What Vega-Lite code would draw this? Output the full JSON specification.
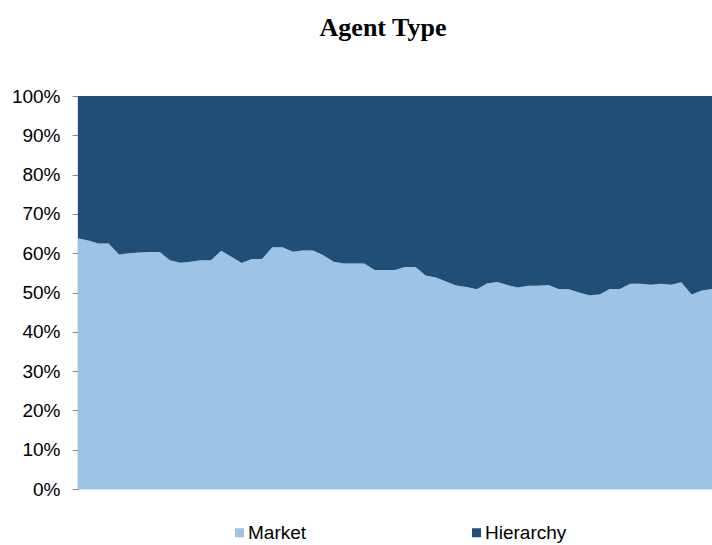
{
  "$schema": "https://vega.github.io/schema/vega-lite/v6.json",
  "autosize": {"type": "none"},
  "padding": {"left": 78, "top": 96, "right": 0, "bottom": 56},
  "width": 634,
  "height": 393,
  "background": "white",
  "title": {
    "text": "Agent Type",
    "font": "Liberation Serif",
    "fontSize": 26,
    "fontWeight": "bold",
    "color": "black",
    "anchor": "middle",
    "offset": 46,
    "dx": -12
  },
  "data": {
    "values": [
      {"t": 0, "Market": 63.8, "Hierarchy": 36.2},
      {"t": 1, "Market": 63.2, "Hierarchy": 36.8},
      {"t": 2, "Market": 62.5, "Hierarchy": 37.5},
      {"t": 3, "Market": 62.5, "Hierarchy": 37.5},
      {"t": 4, "Market": 59.7, "Hierarchy": 40.3},
      {"t": 5, "Market": 60.0, "Hierarchy": 40.0},
      {"t": 6, "Market": 60.2, "Hierarchy": 39.8},
      {"t": 7, "Market": 60.3, "Hierarchy": 39.7},
      {"t": 8, "Market": 60.3, "Hierarchy": 39.7},
      {"t": 9, "Market": 58.2, "Hierarchy": 41.8},
      {"t": 10, "Market": 57.6, "Hierarchy": 42.4},
      {"t": 11, "Market": 57.8, "Hierarchy": 42.2},
      {"t": 12, "Market": 58.2, "Hierarchy": 41.8},
      {"t": 13, "Market": 58.2, "Hierarchy": 41.8},
      {"t": 14, "Market": 60.6, "Hierarchy": 39.4},
      {"t": 15, "Market": 59.1, "Hierarchy": 40.9},
      {"t": 16, "Market": 57.5, "Hierarchy": 42.5},
      {"t": 17, "Market": 58.5, "Hierarchy": 41.5},
      {"t": 18, "Market": 58.5, "Hierarchy": 41.5},
      {"t": 19, "Market": 61.5, "Hierarchy": 38.5},
      {"t": 20, "Market": 61.5, "Hierarchy": 38.5},
      {"t": 21, "Market": 60.4, "Hierarchy": 39.6},
      {"t": 22, "Market": 60.7, "Hierarchy": 39.3},
      {"t": 23, "Market": 60.7, "Hierarchy": 39.3},
      {"t": 24, "Market": 59.5, "Hierarchy": 40.5},
      {"t": 25, "Market": 57.8, "Hierarchy": 42.2},
      {"t": 26, "Market": 57.4, "Hierarchy": 42.6},
      {"t": 27, "Market": 57.4, "Hierarchy": 42.6},
      {"t": 28, "Market": 57.4, "Hierarchy": 42.6},
      {"t": 29, "Market": 55.7, "Hierarchy": 44.3},
      {"t": 30, "Market": 55.7, "Hierarchy": 44.3},
      {"t": 31, "Market": 55.7, "Hierarchy": 44.3},
      {"t": 32, "Market": 56.5, "Hierarchy": 43.5},
      {"t": 33, "Market": 56.5, "Hierarchy": 43.5},
      {"t": 34, "Market": 54.3, "Hierarchy": 45.7},
      {"t": 35, "Market": 53.8, "Hierarchy": 46.2},
      {"t": 36, "Market": 52.8, "Hierarchy": 47.2},
      {"t": 37, "Market": 51.8, "Hierarchy": 48.2},
      {"t": 38, "Market": 51.4, "Hierarchy": 48.6},
      {"t": 39, "Market": 50.8, "Hierarchy": 49.2},
      {"t": 40, "Market": 52.3, "Hierarchy": 47.7},
      {"t": 41, "Market": 52.7, "Hierarchy": 47.3},
      {"t": 42, "Market": 51.9, "Hierarchy": 48.1},
      {"t": 43, "Market": 51.3, "Hierarchy": 48.7},
      {"t": 44, "Market": 51.7, "Hierarchy": 48.3},
      {"t": 45, "Market": 51.7, "Hierarchy": 48.3},
      {"t": 46, "Market": 51.9, "Hierarchy": 48.1},
      {"t": 47, "Market": 50.9, "Hierarchy": 49.1},
      {"t": 48, "Market": 50.8, "Hierarchy": 49.2},
      {"t": 49, "Market": 50.0, "Hierarchy": 50.0},
      {"t": 50, "Market": 49.3, "Hierarchy": 50.7},
      {"t": 51, "Market": 49.5, "Hierarchy": 50.5},
      {"t": 52, "Market": 50.9, "Hierarchy": 49.1},
      {"t": 53, "Market": 50.9, "Hierarchy": 49.1},
      {"t": 54, "Market": 52.2, "Hierarchy": 47.8},
      {"t": 55, "Market": 52.2, "Hierarchy": 47.8},
      {"t": 56, "Market": 52.0, "Hierarchy": 48.0},
      {"t": 57, "Market": 52.2, "Hierarchy": 47.8},
      {"t": 58, "Market": 52.0, "Hierarchy": 48.0},
      {"t": 59, "Market": 52.6, "Hierarchy": 47.4},
      {"t": 60, "Market": 49.5, "Hierarchy": 50.5},
      {"t": 61, "Market": 50.5, "Hierarchy": 49.5},
      {"t": 62, "Market": 50.9, "Hierarchy": 49.1}
    ]
  },
  "transform": [
    {"fold": ["Market", "Hierarchy"], "as": ["type", "value"]},
    {"calculate": "datum.type === 'Market' ? 0 : 1", "as": "ord"}
  ],
  "mark": {"type": "area", "interpolate": "linear"},
  "encoding": {
    "x": {
      "field": "t",
      "type": "quantitative",
      "scale": {"domain": [0, 62], "nice": false, "zero": false},
      "axis": null
    },
    "y": {
      "field": "value",
      "type": "quantitative",
      "stack": "normalize",
      "scale": {"domain": [0, 1], "nice": false},
      "axis": {
        "values": [0, 0.1, 0.2, 0.3, 0.4, 0.5, 0.6, 0.7, 0.8, 0.9, 1],
        "format": ".0%",
        "title": null,
        "grid": false,
        "labelFont": "Liberation Sans",
        "labelFontSize": 19,
        "labelColor": "black",
        "labelPadding": 12,
        "tickSize": 6,
        "tickColor": "#878787",
        "domainColor": "#878787",
        "domainWidth": 1.5,
        "labelFlush": false,
        "labelOverlap": false
      }
    },
    "color": {
      "field": "type",
      "type": "nominal",
      "scale": {"domain": ["Market", "Hierarchy"], "range": ["#9DC3E6", "#1F4E79"]},
      "legend": {
        "title": null,
        "orient": "none",
        "direction": "horizontal",
        "legendX": 152,
        "legendY": 427,
        "symbolType": "square",
        "symbolSize": 81,
        "symbolStrokeWidth": 0,
        "labelFont": "Liberation Sans",
        "labelFontSize": 19,
        "labelColor": "black",
        "labelOffset": -1,
        "columnPadding": 160
      }
    },
    "order": {"field": "ord", "type": "quantitative"}
  }
}
